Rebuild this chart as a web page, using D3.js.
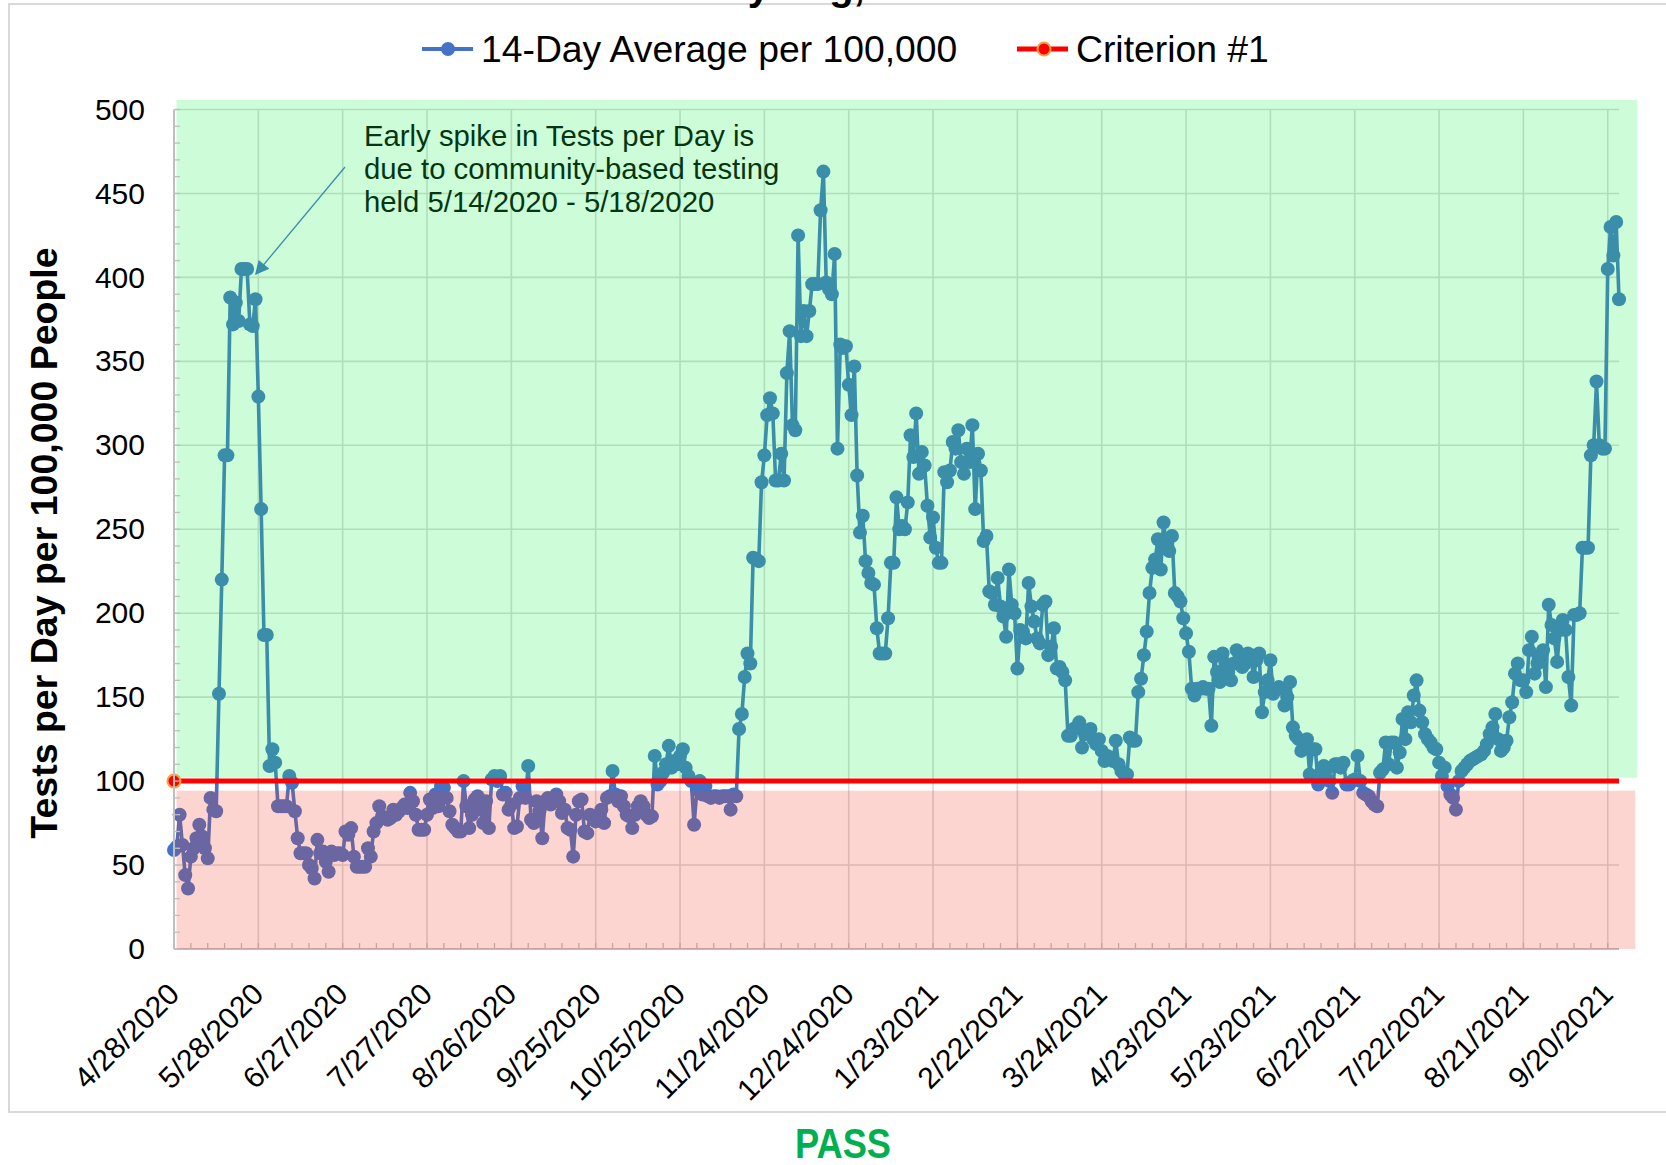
<!DOCTYPE html>
<html><head><meta charset="utf-8">
<script src="https://cdn.jsdelivr.net/npm/d3@7"></script>
<style>
html,body{margin:0;padding:0;background:#fff;}
svg{display:block;font-family:"Liberation Sans", Arial, sans-serif;}
</style></head><body>
<svg id="chart" width="1666" height="1165"></svg>
<script>
// ---------------- DATA ----------------
const startDate = "4/28/2020";
const testsPer100k = [
  59, 61, 80, 62, 44, 36, 55, 60, 66, 74,
  67, 60, 54, 90, 83, 82, 152, 220, 294, 294,
  388, 372, 385, 374, 405, 405, 405, 372, 371, 387,
  329, 262, 187, 187, 109, 119, 111, 85, 85, 85,
  85, 103, 99, 82, 66, 57, 57, 57, 50, 48,
  42, 65, 57, 58, 52, 46, 58, 56, 57, 57,
  56, 70, 68, 72, 55, 49, 49, 49, 49, 60,
  55, 70, 75, 85, 79, 78, 77, 78, 83, 80, 82,
  84, 86, 84, 93, 88, 80, 71, 71, 71, 80,
  89, 84, 92, 85, 97, 96, 90, 82, 74, 72,
  70, 70, 100, 85, 72, 80, 89, 91, 83, 75,
  88, 72, 101, 103, 100, 103, 92, 93, 83, 86,
  72, 73, 90, 97, 90, 109, 77, 75, 88, 82,
  66, 88, 90, 86, 90, 92, 88, 81, 83, 72,
  71, 55, 80, 88, 89, 70, 69, 80, 79, 76,
  78, 83, 75, 90, 91, 106, 92, 88, 91, 85,
  80, 79, 72, 80, 85, 88, 85, 80, 78, 79,
  115, 98, 100, 105, 110, 121, 108, 112, 110, 115,
  119, 108, 103, 100, 74, 95, 100, 92, 97, 91,
  90, 91, 91, 90, 91, 91, 91, 83, 92, 91, 131,
  140, 162, 176, 170, 233, 232, 231, 278, 294, 318,
  328, 319, 279, 279, 295, 279, 343, 368, 312, 309,
  425, 365, 380, 365, 380, 396, 396, 396, 440, 463,
  397, 393, 390, 414, 298, 360, 358, 359, 336, 318,
  347, 282, 248, 258, 231, 224, 218, 217, 191, 176,
  176, 176, 197, 230, 230, 269, 250, 252, 250, 266,
  306, 293, 319, 283, 296, 288, 264, 245, 257, 239,
  230, 230, 284, 278, 285, 302, 298, 309, 290, 283,
  298, 290, 312, 262, 295, 285, 243, 246, 213, 212,
  205, 221, 204, 198, 186, 226, 205, 200, 167, 190,
  189, 185, 218, 204, 195, 185, 182, 205, 207, 175,
  180, 191, 167, 168, 165, 160, 127, 127, 131, 132,
  135, 120, 128, 130, 131, 125, 122, 125, 118, 112,
  115, 114, 112, 124, 110, 106, 104, 104, 126, 124,
  124, 153, 161, 175, 189, 212, 227, 232, 244, 226,
  254, 240, 237, 246, 212, 210, 207, 197, 188, 177,
  155, 151, 155, 155, 156, 155, 155, 133, 174, 165,
  159, 176, 170, 165, 160, 170, 178, 175, 168, 170,
  176, 175, 162, 172, 176, 141, 153, 160, 172, 152,
  155, 156, 155, 145, 150, 159, 132, 127, 125, 118,
  120, 125, 104, 119, 119, 98, 105, 109, 107, 100,
  93, 110, 110, 108, 111, 98, 98, 100, 101, 115,
  100, 93, 92, 91, 88, 86, 85, 105,
  107, 123, 110, 123, 123, 108, 117, 137, 125, 141,
  135, 151, 160, 142, 135, 128, 125, 123, 120, 119,
  111, 103, 108, 97, 92, 90, 83, 100, 106, 108,
  110, 112, 113, 114, 115, 116, 118, 122, 128, 132,
  140, 125, 118, 120, 124, 138, 147, 164, 170, 160,
  160, 153, 178, 186, 164, 170, 175, 178, 156, 205,
  193, 185, 171, 190, 196, 190, 162, 145, 199, 199,
  200, 239, 239, 239, 294, 300, 338, 300, 298, 298,
  405, 430, 413, 433, 387
];
const criterionValue = 100;
const passBand = [102, 505.7];  // green shaded zone (value range)
const failBand = [0, 94.3];     // red shaded zone (value range)
const yTicks = [0, 50, 100, 150, 200, 250, 300, 350, 400, 450, 500];
const xTickLabels = ["4/28/2020","5/28/2020","6/27/2020","7/27/2020","8/26/2020","9/25/2020",
  "10/25/2020","11/24/2020","12/24/2020","1/23/2021","2/22/2021","3/24/2021","4/23/2021",
  "5/23/2021","6/22/2021","7/22/2021","8/21/2021","9/20/2021"];
const legendLabels = ["14-Day Average per 100,000", "Criterion #1"];
const yAxisTitle = "Tests per Day per 100,000 People";
const titleText = "Criterion #1: 14-Day Avg, Statewide";
const annotationLines = ["Early spike in Tests per Day is", "due to community-based testing", "held 5/14/2020 - 5/18/2020"];
const annotationTarget = "5/25/2020";
const verdict = "PASS";

// ---------------- CHART ----------------
const svg = d3.select("#chart");
const parse = d3.utcParse("%m/%d/%Y");
const t0 = parse(startDate);
const series = testsPer100k.map((v, i) => ({date: d3.utcDay.offset(t0, i), v}));
const tEnd = series[series.length - 1].date;
const dayAt = d => new Date(t0.getTime() + d * 864e5);

const x = d3.scaleUtc().domain([t0, tEnd]).range([174, 1619]);
const y = d3.scaleLinear().domain([0, 500]).range([949, 109.5]);

const BLUE = "#4472c4";
const GRID = "#d9d9d9";
const AXIS = "#bfbfbf";

// frame
svg.append("rect").attr("x", 9).attr("y", 4).attr("width", 1700).attr("height", 1108)
  .attr("fill", "none").attr("stroke", "#d9d9d9").attr("stroke-width", 2);

// clipped title (only descenders visible)
svg.append("text").attr("x", 392).attr("y", 0).attr("font-size", 40).attr("font-weight", "bold")
  .attr("fill", "#000").text(titleText);

// gridlines
const g = svg.append("g");
g.selectAll("line.hg").data(yTicks.filter(v => v > 0)).join("line")
  .attr("x1", x(t0)).attr("x2", x(tEnd)).attr("y1", d => y(d)).attr("y2", d => y(d))
  .attr("stroke", GRID).attr("stroke-width", 1.6);
const tickDates = xTickLabels.map(parse);
g.selectAll("line.vg").data(tickDates.slice(1)).join("line")
  .attr("x1", d => x(d)).attr("x2", d => x(d)).attr("y1", y(0)).attr("y2", y(500))
  .attr("stroke", GRID).attr("stroke-width", 1.6);

// x axis line and minor ticks (inside)
svg.append("line").attr("x1", x(t0)).attr("x2", x(tEnd)).attr("y1", y(0)).attr("y2", y(0))
  .attr("stroke", AXIS).attr("stroke-width", 2);
const minorX = d3.range(0, series.length, 6).map(dayAt);
svg.append("g").selectAll("line").data(minorX).join("line")
  .attr("x1", d => x(d)).attr("x2", d => x(d)).attr("y1", y(0)).attr("y2", y(0) - 6)
  .attr("stroke", AXIS).attr("stroke-width", 1.3);

// annotation (under the overlays)
const ann = svg.append("g");
ann.selectAll("text").data(annotationLines).join("text")
  .attr("x", 364).attr("y", (d, i) => 146 + i * 33).attr("font-size", 29.3).attr("fill", "#000").text(d => d);
svg.append("defs").append("marker").attr("id", "arr").attr("viewBox", "0 0 10 10")
  .attr("refX", 9).attr("refY", 5).attr("orient", "auto")
  .attr("markerUnits", "userSpaceOnUse").attr("markerWidth", 18).attr("markerHeight", 14)
  .append("path").attr("d", "M0,0 L10,5 L0,10 Z").attr("fill", BLUE);
const tgt = parse(annotationTarget);
ann.append("line").attr("x1", 345).attr("y1", 167).attr("x2", x(tgt) + 6).attr("y2", y(402))
  .attr("stroke", BLUE).attr("stroke-width", 1.3).attr("marker-end", "url(#arr)");

// series
const line = d3.line().x(d => x(d.date)).y(d => y(d.v));
svg.append("path").datum(series).attr("d", line).attr("fill", "none")
  .attr("stroke", BLUE).attr("stroke-width", 3.6).attr("stroke-linejoin", "round");
svg.append("g").selectAll("circle").data(series).join("circle")
  .attr("cx", d => x(d.date)).attr("cy", d => y(d.v)).attr("r", 7).attr("fill", BLUE);

// translucent zone overlays
svg.append("rect").attr("x", x(t0) + 2.5).attr("width", x(dayAt(520.5)) - x(t0) - 2.5)
  .attr("y", y(passBand[1])).attr("height", y(passBand[0]) - y(passBand[1]))
  .attr("fill", "rgb(22,241,77)").attr("fill-opacity", 0.22);
svg.append("rect").attr("x", x(t0) + 2.5).attr("width", x(dayAt(519.8)) - x(t0) - 2.5)
  .attr("y", y(failBand[1])).attr("height", y(failBand[0]) - y(failBand[1]))
  .attr("fill", "rgb(246,59,35)").attr("fill-opacity", 0.214);

// criterion line
svg.append("line").attr("x1", x(t0)).attr("x2", x(tEnd)).attr("y1", y(criterionValue)).attr("y2", y(criterionValue))
  .attr("stroke", "#ff0000").attr("stroke-width", 5);
svg.append("circle").attr("cx", x(t0)).attr("cy", y(criterionValue)).attr("r", 6.5)
  .attr("fill", "#ff0000").attr("stroke", "#f4a340").attr("stroke-width", 2);

// y axis
svg.append("line").attr("x1", x(t0)).attr("x2", x(t0)).attr("y1", y(0)).attr("y2", y(500))
  .attr("stroke", AXIS).attr("stroke-width", 2);
svg.append("g").selectAll("line").data(d3.range(0, 501, 10)).join("line")
  .attr("x1", x(t0)).attr("x2", x(t0) + 6).attr("y1", d => y(d)).attr("y2", d => y(d))
  .attr("stroke", AXIS).attr("stroke-width", 1.3);
const yAx = svg.append("g").attr("transform", `translate(145,0)`)
  .call(d3.axisLeft(y).tickValues(yTicks).tickSize(0).tickPadding(0));
yAx.select(".domain").remove();
yAx.selectAll("text").attr("font-size", 30).attr("fill", "#000").attr("font-family", "Liberation Sans, Arial, sans-serif");

// x tick labels
svg.append("g").selectAll("text").data(tickDates).join("text")
  .attr("transform", d => `translate(${x(d) + 7},${y(0) + 47}) rotate(-45)`)
  .attr("text-anchor", "end").attr("font-size", 30).attr("fill", "#000")
  .text((d, i) => xTickLabels[i]);

// y axis title
svg.append("text").attr("transform", "translate(57,543) rotate(-90)").attr("text-anchor", "middle")
  .attr("font-size", 37.5).attr("font-weight", "bold").attr("fill", "#000").text(yAxisTitle);

// legend
const lg = svg.append("g");
lg.append("line").attr("x1", 422).attr("x2", 473).attr("y1", 49).attr("y2", 49).attr("stroke", BLUE).attr("stroke-width", 4);
lg.append("circle").attr("cx", 448).attr("cy", 49).attr("r", 7).attr("fill", BLUE);
lg.append("text").attr("x", 481).attr("y", 62).attr("font-size", 37.3).attr("fill", "#000").text(legendLabels[0]);
lg.append("line").attr("x1", 1017).attr("x2", 1068).attr("y1", 49).attr("y2", 49).attr("stroke", "#ff0000").attr("stroke-width", 5);
lg.append("circle").attr("cx", 1044).attr("cy", 49).attr("r", 6.5).attr("fill", "#ff0000").attr("stroke", "#f4a340").attr("stroke-width", 2);
lg.append("text").attr("x", 1076).attr("y", 62).attr("font-size", 37.3).attr("fill", "#000").text(legendLabels[1]);

// verdict
svg.append("text").attr("x", 843).attr("y", 1158).attr("text-anchor", "middle")
  .attr("font-size", 42).attr("font-weight", "bold").attr("fill", "#00b050")
  .attr("textLength", 96).attr("lengthAdjust", "spacingAndGlyphs").text(verdict);
</script>
</body></html>
